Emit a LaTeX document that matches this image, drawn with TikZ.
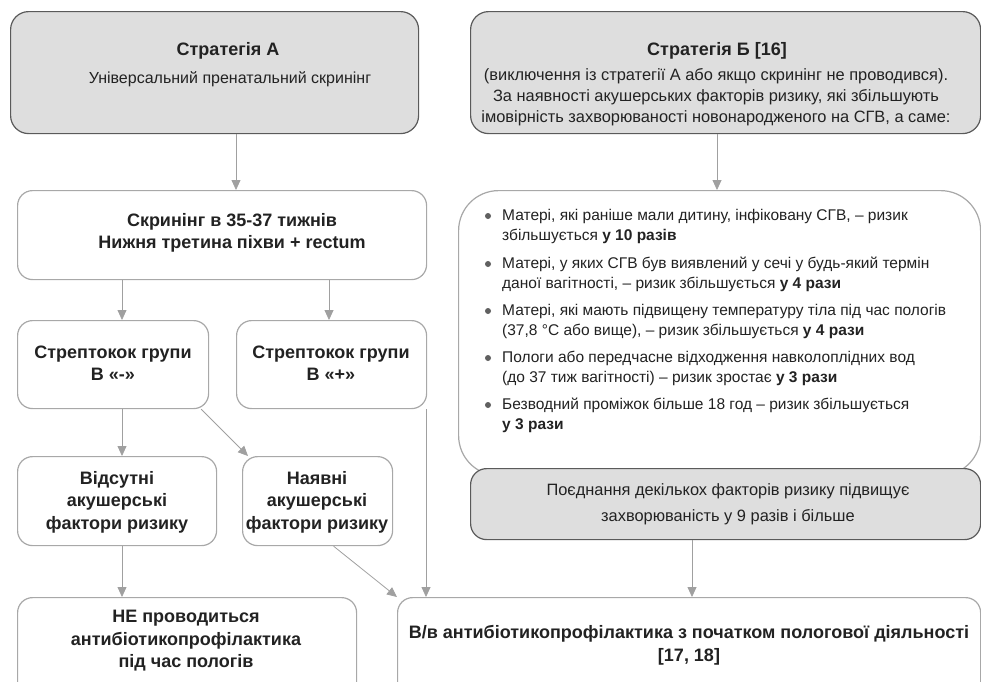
\documentclass[tikz,border=0pt]{standalone}
\usepackage{fontspec}
\setmainfont{Liberation Sans}
\usetikzlibrary{arrows.meta}
\definecolor{gfill}{HTML}{DEDEDE}
\definecolor{gdraw}{HTML}{5A5A5A}
\definecolor{ldraw}{HTML}{A8A8A8}
\definecolor{arr}{HTML}{A0A0A0}
\definecolor{txt}{HTML}{222222}
\definecolor{bul}{HTML}{606060}
\begin{document}
\begin{tikzpicture}[x=1pt,y=-1pt,
  gbox/.style={draw=gdraw, fill=gfill, line width=1.2pt, rounded corners=18pt, anchor=north west, inner sep=0pt},
  lbox/.style={draw=ldraw, fill=white, line width=1.2pt, rounded corners=15pt, anchor=north west, inner sep=0pt},
  conn/.style={draw=arr, line width=0.8pt, -{Triangle[length=10pt,width=9pt]}},
  bt/.style={font=\fontsize{18}{22.5}\selectfont\bfseries, text=txt, align=center, inner sep=0pt},
  rt/.style={font=\fontsize{16.4}{21}\selectfont, text=txt, align=center, inner sep=0pt},
  lt/.style={font=\fontsize{15.5}{20}\selectfont, text=txt, align=left, anchor=west, inner sep=0pt},
]
\useasboundingbox (0,0) rectangle (981,681);
\clip (0,0) rectangle (981,681);

% boxes
\node[gbox, minimum width=408pt, minimum height=122pt] (A) at (10,11) {};
\node[gbox, minimum width=510pt, minimum height=122pt] (B) at (470,11) {};
\node[lbox, minimum width=409pt, minimum height=89pt] (S) at (17,190) {};
\node[lbox, rounded corners=40pt, minimum width=522pt, minimum height=285pt] (L) at (458,190) {};
\node[gbox, rounded corners=16pt, minimum width=510pt, minimum height=71pt] (P) at (470,468) {};
\node[lbox, minimum width=191pt, minimum height=88pt] (Sm) at (17,320) {};
\node[lbox, minimum width=190pt, minimum height=88pt] (Sp) at (236,320) {};
\node[lbox, minimum width=199pt, minimum height=89pt] (V) at (17,456) {};
\node[lbox, minimum width=150pt, minimum height=89pt] (N) at (242,456) {};
\node[lbox, minimum width=339pt, minimum height=110pt] (NE) at (17,597) {};
\node[lbox, minimum width=583pt, minimum height=110pt] (W) at (397,597) {};

% texts
\node[bt] (tA) at (228,51) {Стратегія А};
\node[rt, font=\fontsize{16}{21}\selectfont] (sA) at (230,79) {Універсальний пренатальний скринінг};
\node[bt] (tB) at (717,51) {Стратегія Б [16]};
\node[rt] (sB) at (716,97) {(виключення із стратегії А або якщо скринінг не проводився).\\За наявності акушерських факторів ризику, які збільшують\\імовірність захворюваності новонародженого на СГВ, а саме:};
\node[bt, font=\fontsize{18}{21.5}\selectfont\bfseries] (tS) at (232,233) {Скринінг в 35-37 тижнів\\Нижня третина піхви + rectum};
\node[bt] (tSm) at (113,363) {Стрептокок групи\\В «-»};
\node[bt] (tSp) at (331,363) {Стрептокок групи\\В «+»};
\node[bt] (tV) at (117,502) {Відсутні\\акушерські\\фактори ризику};
\node[bt] (tN) at (317,502) {Наявні\\акушерські\\фактори ризику};
\node[bt] (tNE) at (186,641) {НЕ проводиться\\антибіотикопрофілактика\\під час пологів};
\node[bt, font=\fontsize{18}{23}\selectfont\bfseries] (tW) at (689,645) {В/в антибіотикопрофілактика з початком пологової діяльності\\{[17, 18]}};
\node[rt, font=\fontsize{16.4}{26}\selectfont] (tP) at (728,504) {Поєднання декількох факторів ризику підвищує\\захворюваність у 9 разів і більше};

% list
\foreach \yy in {216,264,311,358,405} \fill[bul] (488,\yy) circle (3pt);
\node[lt] (l1) at (502,226) {Матері, які раніше мали дитину, інфіковану СГВ, – ризик\\збільшується \textbf{у 10 разів}};
\node[lt] (l2) at (502,274) {Матері, у яких СГВ був виявлений у сечі у будь-який термін\\даної вагітності, – ризик збільшується \textbf{у 4 рази}};
\node[lt] (l3) at (502,321) {Матері, які мають підвищену температуру тіла під час пологів\\(37,8 °C або вище), – ризик збільшується \textbf{у 4 рази}};
\node[lt] (l4) at (502,368) {Пологи або передчасне відходження навколоплідних вод\\(до 37 тиж вагітності) – ризик зростає \textbf{у 3 рази}};
\node[lt] (l5) at (502,415) {Безводний проміжок більше 18 год – ризик збільшується\\\textbf{у 3 рази}};

% connectors
\coordinate (xa) at (236,0);
\coordinate (xb) at (717,0);
\coordinate (xc) at (122,0);
\coordinate (xd) at (329,0);
\coordinate (xe) at (426,0);
\coordinate (xf) at (692,0);
\draw[conn] (xa |- A.south) -- (xa |- S.north);
\draw[conn] (xb |- B.south) -- (xb |- L.north);
\draw[conn] (xc |- S.south) -- (xc |- Sm.north);
\draw[conn] (xd |- S.south) -- (xd |- Sp.north);
\draw[conn] (xc |- Sm.south) -- (xc |- V.north);
\draw[conn] (xc |- V.south) -- (xc |- NE.north);
\draw[conn] ([xshift=-8pt]Sm.south east) -- ([xshift=6pt]N.north west);
\draw[conn] (xe |- Sp.south) -- (xe |- W.north);
\draw[conn] ([xshift=16pt]N.south) -- (W.north west);
\draw[conn] (xf |- P.south) -- (xf |- W.north);
\end{tikzpicture}
\end{document}
